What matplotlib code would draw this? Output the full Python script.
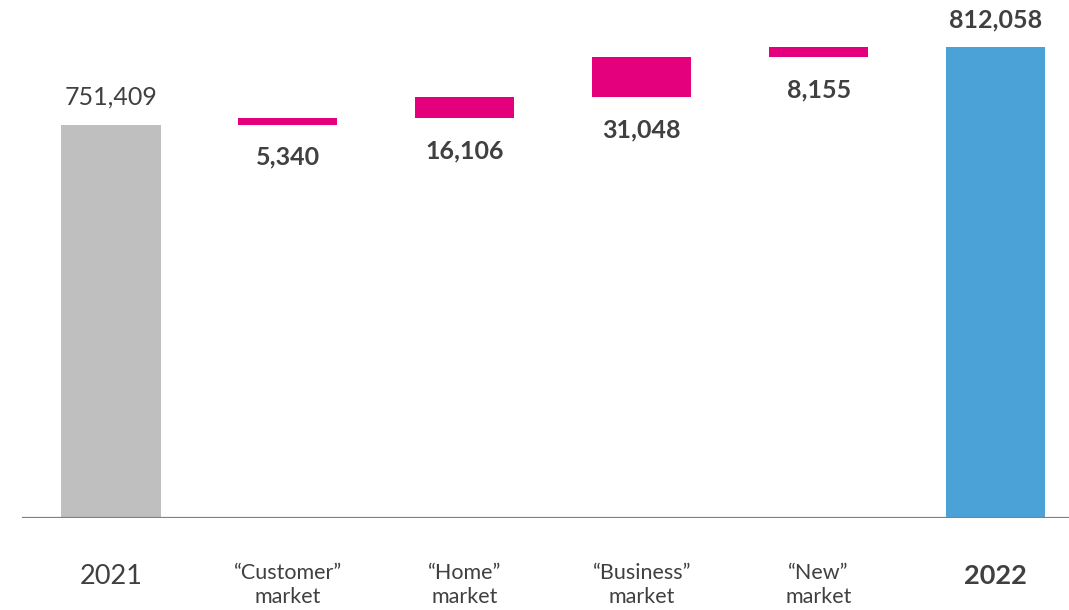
import matplotlib
matplotlib.use("Agg")
import matplotlib.pyplot as plt
from matplotlib.transforms import blended_transform_factory

# Waterfall data: opening total, contributions, closing total
start_label = "2021"
end_label = "2022"
start_value = 751409
end_value = 812058
step_labels = ["\u201cCustomer\u201d\nmarket", "\u201cHome\u201d\nmarket",
               "\u201cBusiness\u201d\nmarket", "\u201cNew\u201d\nmarket"]
step_values = [5340, 16106, 31048, 8155]

GREY = "#BFBFBF"
MAGENTA = "#E4007C"
BLUE = "#4AA2D6"
TEXT = "#404040"
FONT = ["Lato", "DejaVu Sans"]

fig = plt.figure(figsize=(10.69, 6.10), dpi=100)
ax = fig.add_axes([22 / 1069, 1 - 518 / 610, 1 - 22 / 1069, 518 / 610])

y_min = 445800
ax.set_xlim(-0.503, 5.415)
ax.set_ylim(y_min, 848600)

width = 0.56

# Opening total
ax.bar(0, start_value - y_min, bottom=y_min, width=width, color=GREY, zorder=2)
ax.annotate(f"{start_value:,}", (0, start_value), xytext=(0, 12), textcoords="offset points",
            ha="center", va="bottom", fontsize=18, color=TEXT, family=FONT)

# Floating increments
running = start_value
for i, v in enumerate(step_values, start=1):
    ax.bar(i, v, bottom=running, width=width, color=MAGENTA, zorder=2)
    ax.annotate(f"{v:,}", (i, running), xytext=(0, -15), textcoords="offset points",
                ha="center", va="top", fontsize=18, fontweight="bold", color=TEXT, family=FONT)
    running += v

# Closing total
n_end = len(step_values) + 1
ax.bar(n_end, end_value - y_min, bottom=y_min, width=width, color=BLUE, zorder=2)
ax.annotate(f"{end_value:,}", (n_end, end_value), xytext=(0, 11), textcoords="offset points",
            ha="center", va="bottom", fontsize=18, fontweight="bold", color=TEXT, family=FONT)

# Baseline
ax.axhline(y_min, color="#808080", lw=1.6, zorder=3)

# Category labels under the baseline
trans = blended_transform_factory(ax.transData, fig.transFigure)
ax.text(0, 1 - 576 / 610, start_label, transform=trans, ha="center", va="center",
        fontsize=19.5, color=TEXT, family=FONT)
for i, lab in enumerate(step_labels, start=1):
    ax.text(i, 1 - 585 / 610, lab, transform=trans, ha="center", va="center",
            fontsize=15.5, color=TEXT, family=FONT, linespacing=1.3)
ax.text(n_end, 1 - 576 / 610, end_label, transform=trans, ha="center", va="center",
        fontsize=19.5, fontweight="bold", color=TEXT, family=FONT)

ax.axis("off")
fig.savefig("out.png", dpi=100)
